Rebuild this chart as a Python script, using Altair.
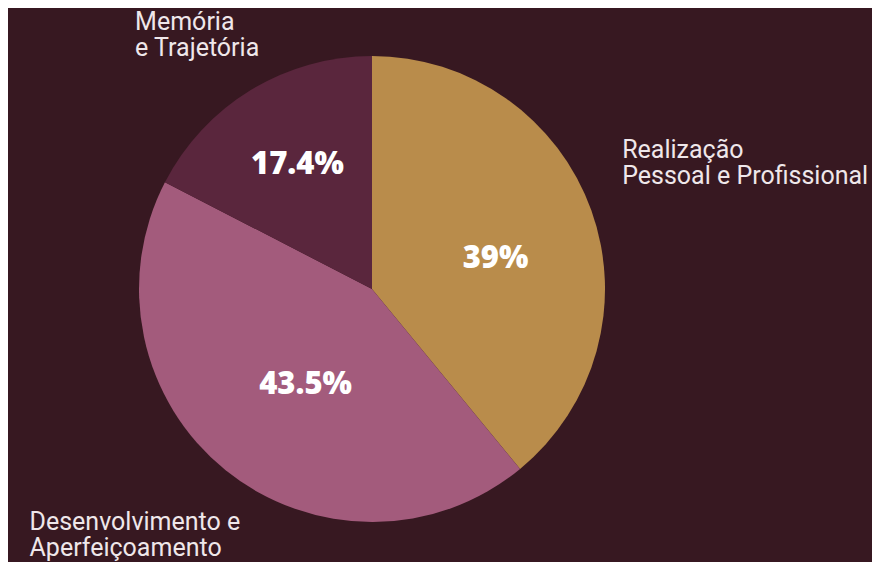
import altair as alt
import pandas as pd

categories = ["Realização\nPessoal e Profissional", "Desenvolvimento e\nAperfeiçoamento", "Memória\ne Trajetória"]
keys = ["A", "B", "C"]
values = [39.0, 43.5, 17.4]
pct_labels = ["39%", "43.5%", "17.4%"]
colors = ["#b98c4b", "#a35b7c", "#5a263d"]

df = pd.DataFrame({"key": keys, "cat": categories, "value": values, "pct": pct_labels})

W, H = 864, 554
CX, CY = 364, 281
R = 233

pie = alt.Chart(df).mark_arc(radius=R).encode(
    theta=alt.Theta("value:Q", stack=True),
    order=alt.Order("key:N"),
    x=alt.value(CX),
    y=alt.value(CY),
    color=alt.Color("key:N", scale=alt.Scale(domain=keys, range=colors), legend=None),
)

# mid-angle of each slice, as a fraction of the whole
lab = alt.Chart(df).transform_joinaggregate(
    total="sum(value)"
).transform_window(
    cum="sum(value)", sort=[alt.SortField("key")]
).transform_calculate(
    mid="(datum.cum - datum.value / 2) / datum.total"
)

theta_mid = alt.Theta("mid:Q", scale=alt.Scale(domain=[0, 1], range=[0, 6.283185307]))


def pct_label(k, dx, dy):
    return lab.transform_filter(alt.datum.key == k).mark_text(
        radius=128, dx=dx, dy=dy, font="Open Sans", fontWeight=800,
        fontSize=31, color="white", align="center", baseline="middle"
    ).encode(theta=theta_mid, x=alt.value(CX), y=alt.value(CY), text="pct:N")


def cat_label(k, dx, dy, rad):
    return lab.transform_filter(alt.datum.key == k).mark_text(
        radius=rad, dx=dx, dy=dy, align="left", baseline="alphabetic",
        font="Roboto", fontSize=25, lineHeight=26, color="#efe7ea", lineBreak="\n"
    ).encode(theta=theta_mid, x=alt.value(CX), y=alt.value(CY), text="cat:N")


labels = alt.layer(
    pct_label("A", 3, 13),
    pct_label("B", 14, -4),
    pct_label("C", -8, -15),
    cat_label("A", -4, -40, 270),
    cat_label("B", -154, 8, 300),
    cat_label("C", -86, -11, 290),
)

chart = alt.layer(pie, labels).resolve_scale(theta="independent").properties(
    width=W, height=H, background="#371821", padding=0, autosize="none"
).configure_view(stroke=None)

chart.save("out.html", embed_options={"renderer": "svg", "actions": False})
